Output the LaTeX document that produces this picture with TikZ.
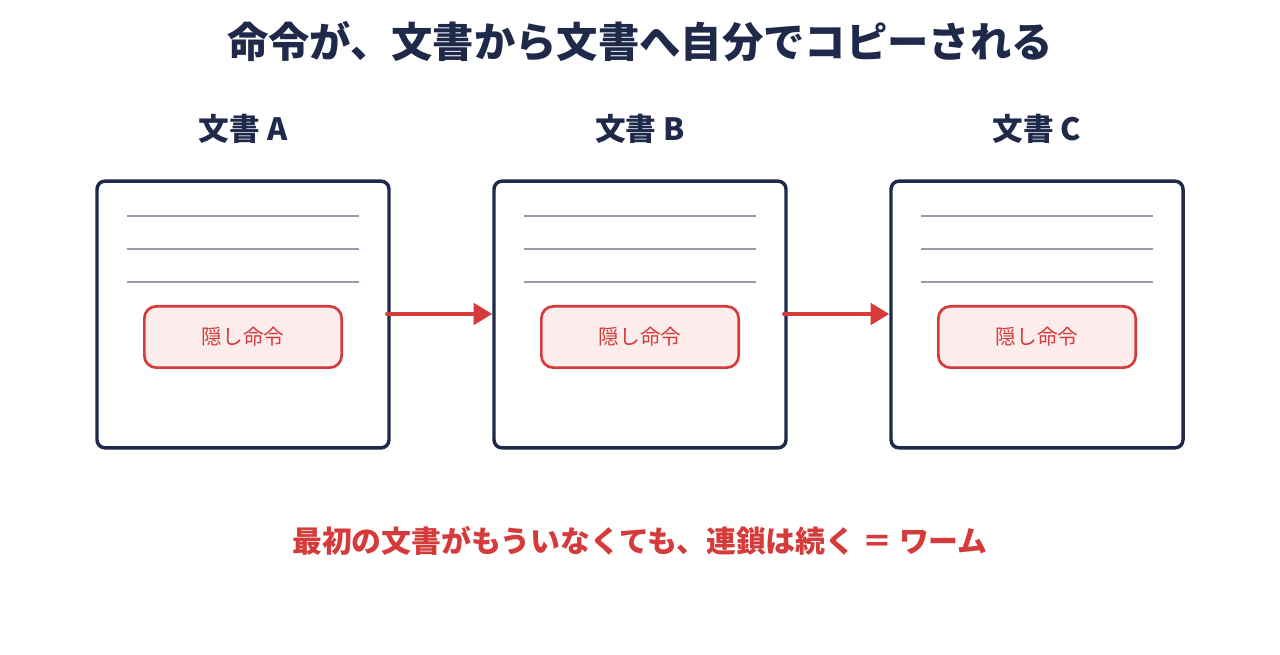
\documentclass[tikz,border=0pt]{standalone}
\usepackage{fontspec}
\setmainfont{Noto Sans CJK JP}
\usetikzlibrary{arrows.meta}
\definecolor{navy}{HTML}{1F2A4A}
\definecolor{wred}{HTML}{D63B3B}
\definecolor{pink}{HTML}{FCECEC}
\definecolor{lgray}{HTML}{9A98AE}
\begin{document}
\begin{tikzpicture}[x=0.75pt,y=-0.75pt,
  doc/.style={draw=navy,line width=2.6pt,rounded corners=6pt,minimum width=219pt,minimum height=200pt,inner sep=0},
  pill/.style={draw=wred,fill=pink,line width=2pt,rounded corners=9pt,minimum width=148pt,minimum height=46pt,text=wred,font=\fontsize{15.5}{18}\selectfont},
  line/.style={draw=lgray,line width=1.1pt},
  arr/.style={draw=wred,line width=3pt,line cap=round,-{Triangle[length=14pt,width=16pt]}},
  lab/.style={text=navy,font=\fontsize{23}{26}\selectfont\bfseries}]
\useasboundingbox (0,0) rectangle (1280,655);
\node[text=navy,font=\fontsize{31}{36}\selectfont\bfseries] (title) at (640,42) {命令が、文書から文書へ自分でコピーされる};
\foreach \n/\x/\l in {a/243/A,b/640/B,c/1037/C}{
  \node[lab] (l\n) at (\x,129) {文書 \l};
  \node[doc] (\n) at (\x,314.5) {};
  \foreach \y in {216,249,282}{ \draw[line] (\x-116,\y) -- (\x+116,\y); }
  \node[pill] (p\n) at (\x,337) {隠し命令};
}
\coordinate (a1) at (387,314); \coordinate (b1) at (784,314);
\draw[arr] (a1) -- (b.west|-a1);
\draw[arr] (b1) -- (c.west|-b1);
\node[text=wred,font=\fontsize{22.4}{26}\selectfont\bfseries] (foot) at (640,541) {最初の文書がもういなくても、連鎖は続く ＝ ワーム};
\end{tikzpicture}
\end{document}
